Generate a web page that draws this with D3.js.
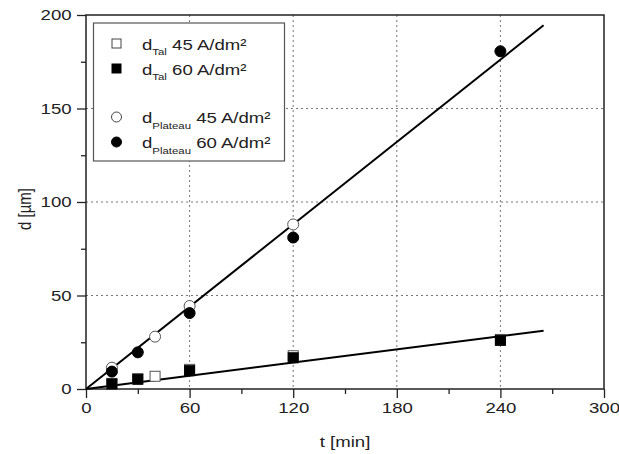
<!DOCTYPE html>
<html>
<head>
<meta charset="utf-8">
<script src="https://cdn.jsdelivr.net/npm/d3@7"></script>
<style>
  body { margin: 0; background: #fff; }
  text { font-family: "Liberation Sans", Arial, sans-serif; fill: #222; }
</style>
</head>
<body>
<div id="chart"></div>
<script>
// data
const talTimes45 = [15, 30, 40, 60, 120, 240]
const talValues45 = [3, 5.5, 6.8, 10.5, 17.8, 26.5]
const talTimes60 = [15, 30, 60, 120, 240]
const talValues60 = [2.7, 5.2, 9.8, 16.7, 26]
const plateauTimes45 = [15, 40, 60, 120]
const plateauValues45 = [11.4, 28, 44.4, 88]
const plateauTimes60 = [15, 30, 60, 120, 240]
const plateauValues60 = [9.3, 19.6, 40.6, 81, 180.6]
const fitUpper = [[0, 0], [265, 194.5]]
const fitLower = [[0, 0], [265, 31.2]]
const xTicks = [0, 60, 120, 180, 240, 300]
const xMinorTicks = [30, 90, 150, 210, 270]
const yTicks = [0, 50, 100, 150, 200]
const yMinorTicks = [25, 75, 125, 175]

const W = 619, H = 454
const margin = { top: 15, right: 15, bottom: 65, left: 86 }
const width = 604 - margin.left, height = 389 - margin.top
const stretch = 1.2   // the source picture is a bit wider than tall in its lettering

const svg = d3.select('#chart').append('svg')
    .attr('width', W).attr('height', H)
const g = svg.append('g')
    .attr('transform', 'translate(' + margin.left + ',' + margin.top + ')')

const x = d3.scaleLinear().domain([0, 300]).range([0, width])
const y = d3.scaleLinear().domain([0, 200]).range([height, 0])

// grid
g.selectAll('.vgrid').data(xTicks.filter(d => d > 0 && d < 300)).enter()
    .append('line')
    .attr('x1', d => x(d)).attr('x2', d => x(d))
    .attr('y1', 0).attr('y2', height)
    .attr('stroke', '#777').attr('stroke-width', 1).attr('stroke-dasharray', '2,3')
g.selectAll('.hgrid').data(yTicks.filter(d => d > 0 && d < 200)).enter()
    .append('line')
    .attr('x1', 0).attr('x2', width)
    .attr('y1', d => y(d)).attr('y2', d => y(d))
    .attr('stroke', '#777').attr('stroke-width', 1).attr('stroke-dasharray', '2,3')

// axes
const xAxis = g.append('g').attr('transform', 'translate(0,' + height + ')')
    .call(d3.axisBottom(x).tickValues(xTicks).tickSize(9).tickPadding(4))
const xMinor = g.append('g').attr('transform', 'translate(0,' + height + ')')
    .call(d3.axisBottom(x).tickValues(xMinorTicks).tickSize(5).tickFormat(''))
const yAxis = g.append('g')
    .call(d3.axisLeft(y).tickValues(yTicks).tickSize(9).tickPadding(3))
const yMinor = g.append('g')
    .call(d3.axisLeft(y).tickValues(yMinorTicks).tickSize(5).tickFormat(''))
;[xAxis, yAxis, xMinor, yMinor].forEach(a => {
    a.select('.domain').remove()
    a.selectAll('line').attr('stroke', '#222').attr('stroke-width', 1.3)
    a.selectAll('text')
        .style('font-size', '15.5px')
        .style('font-family', '"Liberation Sans", Arial, sans-serif')
        .attr('fill', '#222')
        .attr('transform', 'scale(' + stretch + ',1)')
})

// frame
g.append('rect').attr('x', 0).attr('y', 0).attr('width', width).attr('height', height)
    .attr('fill', 'none').attr('stroke', '#222').attr('stroke-width', 1.5)

// fit lines
const line = d3.line().x(d => x(d[0])).y(d => y(d[1]))
;[fitUpper, fitLower].forEach(f => {
    g.append('path').datum(f).attr('d', line)
        .attr('fill', 'none').attr('stroke', '#000').attr('stroke-width', 2)
})

// points
function squares(times, values, filled) {
    g.selectAll(null).data(times.map((t, i) => [t, values[i]])).enter()
        .append('rect')
        .attr('x', d => x(d[0]) - 5).attr('y', d => y(d[1]) - 5)
        .attr('width', 10).attr('height', 10)
        .attr('fill', filled ? '#000' : '#fff')
        .attr('stroke', filled ? '#000' : '#555').attr('stroke-width', 1)
}
function circles(times, values, filled) {
    g.selectAll(null).data(times.map((t, i) => [t, values[i]])).enter()
        .append('circle')
        .attr('cx', d => x(d[0])).attr('cy', d => y(d[1]))
        .attr('r', 5.5)
        .attr('fill', filled ? '#000' : '#fff')
        .attr('stroke', filled ? '#000' : '#555').attr('stroke-width', 1)
}
squares(talTimes45, talValues45, false)
circles(plateauTimes45, plateauValues45, false)
squares(talTimes60, talValues60, true)
circles(plateauTimes60, plateauValues60, true)

// axis titles
svg.append('text')
    .attr('transform', 'translate(345,447) scale(' + stretch + ',1)')
    .attr('text-anchor', 'middle')
    .style('font-size', '15.5px').text('t [min]')
svg.append('text')
    .attr('transform', 'translate(31,209) rotate(-90) scale(1,' + stretch + ')')
    .attr('text-anchor', 'middle')
    .style('font-size', '15px').text('d [µm]')

// legend
const leg = svg.append('g')
leg.append('rect').attr('x', 93.5).attr('y', 23).attr('width', 191).attr('height', 138)
    .attr('fill', '#fff').attr('stroke', '#555').attr('stroke-width', 1.2)
const legendItems = [
    { shape: 'square', filled: false, sub: 'Tal', label: '45 A/dm²', y: 43.5 },
    { shape: 'square', filled: true, sub: 'Tal', label: '60 A/dm²', y: 68.5 },
    { shape: 'circle', filled: false, sub: 'Plateau', label: '45 A/dm²', y: 117 },
    { shape: 'circle', filled: true, sub: 'Plateau', label: '60 A/dm²', y: 142 }
]
legendItems.forEach(it => {
    if (it.shape === 'square') {
        leg.append('rect').attr('x', 112).attr('y', it.y - 4.5).attr('width', 9).attr('height', 9)
            .attr('fill', it.filled ? '#000' : '#fff').attr('stroke', it.filled ? '#000' : '#444')
    } else {
        leg.append('circle').attr('cx', 116.5).attr('cy', it.y).attr('r', 5)
            .attr('fill', it.filled ? '#000' : '#fff').attr('stroke', it.filled ? '#000' : '#444')
    }
    const t = leg.append('text')
        .attr('transform', 'translate(142,' + (it.y + 6) + ') scale(' + stretch + ',1)')
        .style('font-size', '15.5px')
    t.append('tspan').text('d')
    t.append('tspan').attr('dy', 5.5).style('font-size', '9.5px').text(it.sub)
    t.append('tspan').attr('dy', -5.5).text(' ' + it.label)
})
</script>
</body>
</html>
